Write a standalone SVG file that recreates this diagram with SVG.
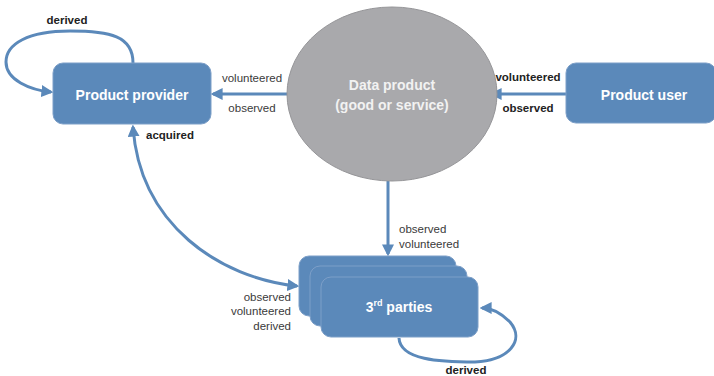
<svg xmlns="http://www.w3.org/2000/svg" width="714" height="376" viewBox="0 0 714 376">
<style>
.box{fill:#5B89BA;stroke:#7D9FC8;stroke-width:1}
.node{fill:#FFFFFF;font-family:"Liberation Sans",Arial,sans-serif;font-weight:bold;font-size:14px;text-anchor:middle}
.lbl{fill:#3A3A3A;font-family:"Liberation Sans",Arial,sans-serif;font-size:11.5px}
.b{font-weight:bold;fill:#222}
.c{fill:none;stroke:#5B89BA;stroke-width:3}
</style>
<defs>
<marker id="ah" viewBox="0 0 10 10" refX="8" refY="5" markerWidth="4" markerHeight="4" orient="auto-start-reverse" markerUnits="strokeWidth">
<path d="M0,0 L10,5 L0,10 z" fill="#5B89BA"/>
</marker>
</defs>
<rect width="714" height="376" fill="#FFFFFF"/>
<g id="connectors">
<path class="c" d="M287,94 L213,94" marker-end="url(#ah)"/>
<path class="c" d="M566,94 L492,94" marker-end="url(#ah)"/>
<path class="c" d="M388,181 L388,254" marker-end="url(#ah)"/>
<path class="c" d="M133,63 C133,36 110,31 70,31 C28,31 6,44 6,62 C6,80 30,90 51,92" marker-end="url(#ah)"/>
<path class="c" d="M133,127 C140,225 220,278 297,286" marker-start="url(#ah)" marker-end="url(#ah)"/>
<path class="c" d="M399,338 C400,360 440,362 475,362 C510,360 525,340 510,322 C500,312 492,308 482,308" marker-end="url(#ah)"/>
</g>
<g id="data-product">
<ellipse cx="392" cy="94" rx="105" ry="87" fill="#A9A9AC" stroke="#959598" stroke-width="1"/>
<text class="node" x="392" y="90" style="fill:#F2F2F2">Data product</text>
<text class="node" x="392" y="110" style="fill:#F2F2F2">(good or service)</text>
</g>
<g id="product-provider">
<rect class="box" x="53" y="63" width="158" height="61" rx="10"/>
<text class="node" x="132" y="100">Product provider</text>
</g>
<g id="product-user">
<rect class="box" x="566" y="63" width="150" height="60" rx="10"/>
<text class="node" x="644" y="100">Product user</text>
</g>
<g id="third-parties">
<rect class="box" x="299" y="256" width="157" height="60" rx="10"/>
<rect class="box" x="310" y="266" width="157" height="60" rx="10"/>
<rect class="box" x="321" y="277" width="157" height="60" rx="10"/>
<text class="node" x="399" y="312">3<tspan font-size="9" dy="-6">rd</tspan><tspan dy="6"> parties</tspan></text>
</g>
<g id="labels">
<text class="lbl b" x="67" y="24" text-anchor="middle">derived</text>
<text class="lbl" x="252" y="82" text-anchor="middle">volunteered</text>
<text class="lbl" x="252" y="112" text-anchor="middle">observed</text>
<text class="lbl b" x="528" y="81" text-anchor="middle">volunteered</text>
<text class="lbl b" x="528" y="112" text-anchor="middle">observed</text>
<text class="lbl b" x="170" y="139" text-anchor="middle">acquired</text>
<text class="lbl" x="399" y="233">observed</text>
<text class="lbl" x="399" y="248">volunteered</text>
<text class="lbl" x="291" y="301" text-anchor="end">observed</text>
<text class="lbl" x="291" y="315" text-anchor="end">volunteered</text>
<text class="lbl" x="291" y="330" text-anchor="end">derived</text>
<text class="lbl b" x="466" y="374" text-anchor="middle">derived</text>
</g>
</svg>
